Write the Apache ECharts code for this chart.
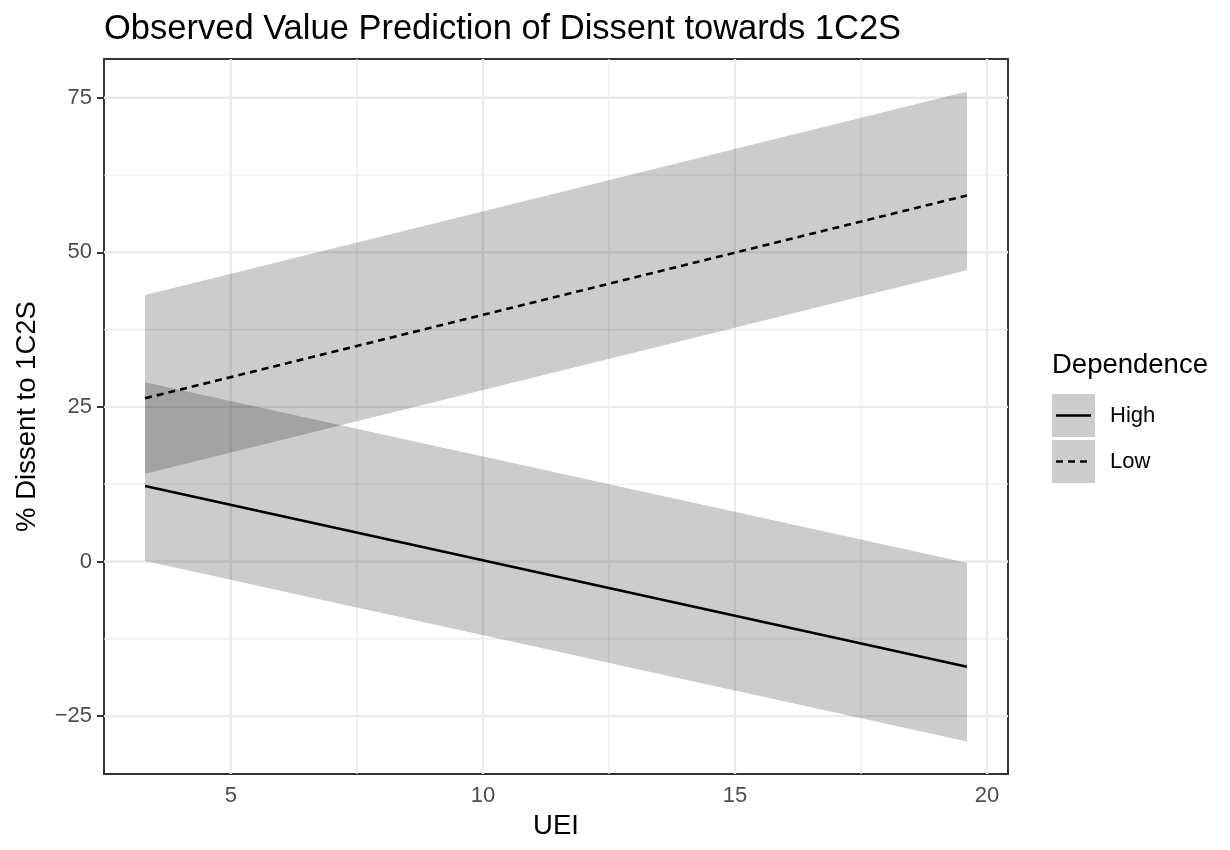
<!DOCTYPE html>
<html><head><meta charset="utf-8">
<script src="https://cdn.jsdelivr.net/npm/echarts@6/dist/echarts.min.js"></script>
<style>html,body{margin:0;padding:0;background:#fff}#c{width:1230px;height:850px}</style>
</head><body><div id="c"></div>
<script>
// ---- data ----
const uei = [3.3, 19.6];
const highFit = [12.2, -17.0];
const highLower = [0.1, -29.1];
const highUpper = [29.0, -0.2];
const lowFit = [26.4, 59.2];
const lowLower = [14.2, 47.1];
const lowUpper = [43.1, 76.0];
const xMajorTicks = [5, 10, 15, 20];
const xMinorTicks = [7.5, 12.5, 17.5];
const yMajorTicks = [-25, 0, 25, 50, 75];
const yMinorTicks = [-12.5, 12.5, 37.5, 62.5];
const legendNames = ['High', 'Low'];
const legendTitle = 'Dependence';

const FONT = '"Liberation Sans", Arial, Helvetica, sans-serif';
const allY = highLower.concat(highUpper, lowLower, lowUpper, highFit, lowFit);
const xr = Math.max(...uei) - Math.min(...uei);
const yr = Math.max(...allY) - Math.min(...allY);
const xMin = Math.min(...uei) - 0.05 * xr, xMax = Math.max(...uei) + 0.05 * xr;
const yMin = Math.min(...allY) - 0.05 * yr, yMax = Math.max(...allY) + 0.05 * yr;

const gridRows = [];
xMajorTicks.forEach(v => gridRows.push([v, 0, 0, 1]));
xMinorTicks.forEach(v => gridRows.push([v, 0, 0, 0]));
yMajorTicks.forEach(v => gridRows.push([xMajorTicks[0], v, 1, 1]));
yMinorTicks.forEach(v => gridRows.push([xMajorTicks[0], v, 1, 0]));

function ribbon(name, lo, hi) {
  return {
    type: 'custom', name: name + ' band', z: 2, silent: true, clip: true,
    data: uei.map((x, i) => [x, lo[i], hi[i]]),
    encode: { x: 0, y: [1, 2] },
    renderItem(params, api) {
      const i = params.dataIndexInside;
      if (i >= params.dataInsideLength - 1) return null;
      const a = api.coord([api.value(0, i), api.value(1, i)]);
      const b = api.coord([api.value(0, i + 1), api.value(1, i + 1)]);
      const c = api.coord([api.value(0, i + 1), api.value(2, i + 1)]);
      const d = api.coord([api.value(0, i), api.value(2, i)]);
      return { type: 'polygon', shape: { points: [a, b, c, d] }, style: { fill: 'rgba(0,0,0,0.2)' } };
    }
  };
}
function fitLine(name, ys, dash) {
  return {
    type: 'line', name, z: 3, silent: true, showSymbol: false, symbol: 'none',
    data: uei.map((x, i) => [x, ys[i]]),
    lineStyle: { color: '#000', width: 2.6, type: dash }
  };
}

const keyLeft = 1052, keySize = 43, keyTops = [394, 440];
const dashes = ['solid', [7, 5]];
const graphic = [{
  type: 'text', x: keyLeft, y: 365,
  style: { text: legendTitle, font: '27.5px ' + FONT, fill: '#000', verticalAlign: 'middle', align: 'left' }
}];
legendNames.forEach((n, i) => {
  graphic.push({ type: 'rect', shape: { x: keyLeft, y: keyTops[i], width: keySize, height: keySize }, style: { fill: '#cccccc' } });
  graphic.push({ type: 'line', shape: { x1: keyLeft + 4, y1: keyTops[i] + keySize / 2, x2: keyLeft + keySize - 4, y2: keyTops[i] + keySize / 2 },
    style: { stroke: '#000', lineWidth: 2.6, lineDash: dashes[i] === 'solid' ? null : dashes[i] } });
  graphic.push({ type: 'text', x: keyLeft + keySize + 15, y: keyTops[i] + keySize / 2,
    style: { text: n, font: '22px ' + FONT, fill: '#000', verticalAlign: 'middle', align: 'left' } });
});

const chart = echarts.init(document.getElementById('c'), null, { renderer: 'canvas' });
chart.setOption({
  animation: false,
  backgroundColor: '#fff',
  textStyle: { fontFamily: FONT },
  title: { text: 'Observed Value Prediction of Dissent towards 1C2S', left: 104, top: 12, padding: 0,
    textStyle: { fontSize: 34.5, fontWeight: 'normal', color: '#000', fontFamily: FONT } },
  grid: { left: 104, top: 59, width: 904, height: 715, show: true, borderColor: '#333333', borderWidth: 2, backgroundColor: 'transparent', containLabel: false },
  xAxis: {
    type: 'value', min: xMin, max: xMax,
    name: 'UEI', nameLocation: 'middle', nameGap: 38,
    nameTextStyle: { fontSize: 27.5, color: '#000', fontFamily: FONT },
    axisLine: { show: false },
    axisTick: { show: true, customValues: xMajorTicks, length: 7, lineStyle: { color: '#333333', width: 2 } },
    axisLabel: { customValues: xMajorTicks, fontSize: 22, color: '#4d4d4d', margin: 11, fontFamily: FONT },
    splitLine: { show: false }
  },
  yAxis: {
    type: 'value', min: yMin, max: yMax,
    name: '% Dissent to 1C2S', nameLocation: 'middle', nameGap: 63, nameRotate: 90,
    nameTextStyle: { fontSize: 27.5, color: '#000', fontFamily: FONT },
    axisLine: { show: false },
    axisTick: { show: true, customValues: yMajorTicks, length: 7, lineStyle: { color: '#333333', width: 2 } },
    axisLabel: { customValues: yMajorTicks, fontSize: 22, color: '#4d4d4d', margin: 12, fontFamily: FONT,
      formatter: v => (v < 0 ? '\u2212' + Math.abs(v) : String(v)) },
    splitLine: { show: false }
  },
  series: [
    {
      type: 'custom', name: 'grid', z: 1, silent: true,
      data: gridRows, encode: { x: 0, y: 1 },
      renderItem(params, api) {
        const cs = params.coordSys;
        const p = api.coord([api.value(0), api.value(1)]);
        const major = api.value(3) === 1;
        const shape = api.value(2) === 0
          ? { x1: p[0], y1: cs.y, x2: p[0], y2: cs.y + cs.height }
          : { x1: cs.x, y1: p[1], x2: cs.x + cs.width, y2: p[1] };
        return { type: 'line', shape, style: { stroke: '#ebebeb', lineWidth: major ? 2.4 : 1.2 } };
      }
    },
    ribbon('High', highLower, highUpper),
    ribbon('Low', lowLower, lowUpper),
    fitLine('High', highFit, 'solid'),
    fitLine('Low', lowFit, [7, 5])
  ],
  graphic
});
</script></body></html>
